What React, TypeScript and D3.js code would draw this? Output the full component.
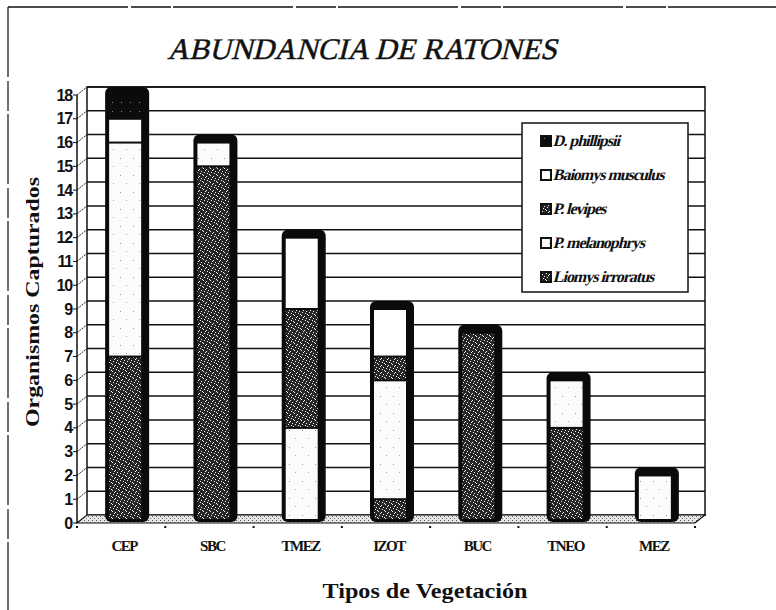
import { useEffect, useRef } from "react";
import * as d3 from "d3";

const categories = ["CEP", "SBC", "TMEZ", "IZOT", "BUC", "TNEO", "MEZ"];
const seriesNames = [
  "Liomys irroratus",
  "P. melanophrys",
  "P. levipes",
  "Baiomys musculus",
  "D. phillipsii",
];
const liomys = [7, 15, 0, 1, 8, 4, 0];
const melanophrys = [9, 1, 4, 5, 0, 2, 2];
const levipes = [0, 0, 5, 1, 0, 0, 0];
const baiomys = [1, 0, 3, 2, 0, 0, 0];
const phillipsii = [1, 0, 0, 0, 0, 0, 0];
const yTicks = d3.range(0, 19);

// legend is listed top-down in reverse stack order
const legendOrder = [
  "D. phillipsii",
  "Baiomys musculus",
  "P. levipes",
  "P. melanophrys",
  "Liomys irroratus",
];

const fills: Record<string, string> = {
  "Liomys irroratus": "url(#speckDark)",
  "P. melanophrys": "url(#dotsLight)",
  "P. levipes": "url(#speckDark)",
  "Baiomys musculus": "#ffffff",
  "D. phillipsii": "url(#speckBlack)",
};

const serif = "'Liberation Serif', 'Times New Roman', serif";

export default function App() {
  const svgRef = useRef<SVGSVGElement>(null);

  useEffect(() => {
    if (!svgRef.current) return;
    const svg = d3.select(svgRef.current);
    svg.selectAll("*").remove();

    const width = 776;
    const height = 610;
    const dx = 10;
    const dy = -8;
    const x0 = 77;
    const x1 = 695;

    const x = d3.scaleBand<string>().domain(categories).range([x0, x1]);
    const y = d3.scaleLinear().domain([0, 18]).range([523, 95]);

    // patterns
    const defs = svg.append("defs");
    const dark = defs
      .append("pattern")
      .attr("id", "speckDark")
      .attr("patternUnits", "userSpaceOnUse")
      .attr("width", 7)
      .attr("height", 7);
    dark.append("rect").attr("width", 7).attr("height", 7).attr("fill", "#262626");
    [
      [0, 0], [3, 1], [5, 3], [1, 4], [4, 5], [6, 6], [2, 2],
    ].forEach(([px, py]) =>
      dark.append("rect").attr("x", px).attr("y", py).attr("width", 1).attr("height", 1).attr("fill", "#f4f4f4")
    );
    const black = defs
      .append("pattern")
      .attr("id", "speckBlack")
      .attr("patternUnits", "userSpaceOnUse")
      .attr("width", 9)
      .attr("height", 9);
    black.append("rect").attr("width", 9).attr("height", 9).attr("fill", "#0d0d0d");
    black.append("rect").attr("x", 4).attr("y", 3).attr("width", 1).attr("height", 1).attr("fill", "#888");
    const light = defs
      .append("pattern")
      .attr("id", "dotsLight")
      .attr("patternUnits", "userSpaceOnUse")
      .attr("width", 13)
      .attr("height", 17);
    light.append("rect").attr("width", 13).attr("height", 17).attr("fill", "#fbfbfb");
    light.append("rect").attr("x", 3).attr("y", 5).attr("width", 1).attr("height", 1).attr("fill", "#999");
    light.append("rect").attr("x", 9).attr("y", 13).attr("width", 1).attr("height", 1).attr("fill", "#aaa");
    const floor = defs
      .append("pattern")
      .attr("id", "floorDither")
      .attr("patternUnits", "userSpaceOnUse")
      .attr("width", 4)
      .attr("height", 4);
    floor.append("rect").attr("width", 4).attr("height", 4).attr("fill", "#e6e6e6");
    floor.append("rect").attr("x", 0).attr("y", 0).attr("width", 1).attr("height", 1).attr("fill", "#555");
    floor.append("rect").attr("x", 2).attr("y", 2).attr("width", 1).attr("height", 1).attr("fill", "#777");

    svg.append("rect").attr("width", width).attr("height", height).attr("fill", "#fff");

    // outer frame
    svg.append("line").attr("x1", 8).attr("x2", width).attr("y1", 7).attr("y2", 7)
      .attr("stroke", "#111").attr("stroke-width", 1.5).attr("stroke-dasharray", "120 3 40 2");
    svg.append("line").attr("x1", 8).attr("x2", 8).attr("y1", 7).attr("y2", height)
      .attr("stroke", "#111").attr("stroke-width", 1.2).attr("stroke-dasharray", "70 4 30 3");

    // title (slanted serif)
    svg.append("text")
      .attr("transform", "translate(362,59) skewX(-14)")
      .attr("text-anchor", "middle")
      .attr("font-family", serif)
      .attr("font-size", 30)
      .attr("fill", "#111")
      .attr("stroke", "#111")
      .attr("stroke-width", 0.5)
      .text("ABUNDANCIA DE RATONES");

    // back wall
    svg.append("rect")
      .attr("x", x0 + dx).attr("y", y(18) + dy)
      .attr("width", x1 - x0).attr("height", y(0) - y(18))
      .attr("fill", "#fff").attr("stroke", "#111").attr("stroke-width", 1.5);

    // gridlines on back wall and side wall
    yTicks.slice(1).forEach((v) => {
      svg.append("line")
        .attr("x1", x0 + dx).attr("x2", x1 + dx)
        .attr("y1", y(v) + dy).attr("y2", y(v) + dy)
        .attr("stroke", "#111").attr("stroke-width", 1.5);
      svg.append("line")
        .attr("x1", x0).attr("x2", x0 + dx)
        .attr("y1", y(v)).attr("y2", y(v) + dy)
        .attr("stroke", "#222").attr("stroke-width", 1).attr("stroke-dasharray", "2 1");
    });

    // floor
    svg.append("path")
      .attr("d", `M${x0},${y(0)}L${x1},${y(0)}L${x1 + dx},${y(0) + dy}L${x0 + dx},${y(0) + dy}Z`)
      .attr("fill", "url(#floorDither)").attr("stroke", "#111").attr("stroke-width", 1.2);

    // y axis
    svg.append("line").attr("x1", x0).attr("x2", x0).attr("y1", y(18)).attr("y2", y(0))
      .attr("stroke", "#111").attr("stroke-width", 1.5);
    yTicks.forEach((v) => {
      svg.append("line").attr("x1", x0 - 4).attr("x2", x0).attr("y1", y(v)).attr("y2", y(v))
        .attr("stroke", "#111").attr("stroke-width", 1);
      svg.append("text")
        .attr("x", x0 - 5).attr("y", y(v))
        .attr("text-anchor", "end")
        .attr("dominant-baseline", "central")
        .attr("font-family", "'Liberation Sans', Arial, sans-serif")
        .attr("font-weight", "bold")
        .attr("font-size", 16)
        .attr("letter-spacing", -1.2)
        .attr("fill", "#111")
        .text(v);
    });

    // x axis ticks (category boundaries)
    d3.range(categories.length + 1).forEach((i) => {
      const tx = x0 + i * x.bandwidth();
      svg.append("rect").attr("x", tx - 1).attr("y", y(0) + 3).attr("width", 2).attr("height", 2).attr("fill", "#111");
    });

    // stacked bars
    const rows = categories.map((c, i) => ({
      cat: c,
      "Liomys irroratus": liomys[i],
      "P. melanophrys": melanophrys[i],
      "P. levipes": levipes[i],
      "Baiomys musculus": baiomys[i],
      "D. phillipsii": phillipsii[i],
    }));
    const stacked = d3.stack<any>().keys(seriesNames)(rows);
    const barW = 44;
    const bars = svg.append("g");
    categories.forEach((c, i) => {
      const total = d3.sum(seriesNames, (k) => (rows[i] as any)[k]);
      const bx = (x(c) ?? 0) + x.bandwidth() / 2 - 16;
      bars.append("rect")
        .attr("x", bx).attr("y", y(total) + dy)
        .attr("width", barW).attr("height", y(0) - 1 - (y(total) + dy))
        .attr("rx", 6)
        .attr("fill", "#0a0a0a");
    });
    stacked.forEach((s) => {
      s.forEach((d, i) => {
        if (d[1] - d[0] <= 0) return;
        const c = categories[i];
        const bx = (x(c) ?? 0) + x.bandwidth() / 2 - 16;
        const top = y(d[1]) + 1;
        const bottom = d[0] === 0 ? y(0) - 4 : y(d[0]) - 1;
        bars.append("rect")
          .attr("x", bx + 4).attr("y", top)
          .attr("width", 32).attr("height", bottom - top)
          .attr("fill", fills[s.key]);
      });
    });

    // category labels
    categories.forEach((c) => {
      svg.append("text")
        .attr("x", (x(c) ?? 0) + x.bandwidth() / 2 + 3)
        .attr("y", 546)
        .attr("text-anchor", "middle")
        .attr("dominant-baseline", "central")
        .attr("font-family", serif)
        .attr("font-weight", "bold")
        .attr("font-size", 15)
        .attr("letter-spacing", -1.5)
        .attr("fill", "#111")
        .text(c);
    });

    // axis titles
    svg.append("text")
      .attr("transform", "translate(39,302) rotate(-90)")
      .attr("text-anchor", "middle")
      .attr("font-family", serif)
      .attr("font-weight", "bold")
      .attr("font-size", 18)
      .attr("textLength", 250)
      .attr("lengthAdjust", "spacingAndGlyphs")
      .attr("fill", "#111")
      .text("Organismos Capturados");
    svg.append("text")
      .attr("x", 425).attr("y", 598)
      .attr("text-anchor", "middle")
      .attr("font-family", serif)
      .attr("font-weight", "bold")
      .attr("font-size", 20)
      .attr("textLength", 205)
      .attr("lengthAdjust", "spacingAndGlyphs")
      .attr("fill", "#111")
      .text("Tipos de Vegetación");

    // legend
    const lg = svg.append("g");
    lg.append("rect").attr("x", 522).attr("y", 123).attr("width", 166).attr("height", 169)
      .attr("fill", "#fff").attr("stroke", "#111").attr("stroke-width", 1.5);
    legendOrder.forEach((name, i) => {
      const ly = 141 + i * 34;
      lg.append("rect").attr("x", 541).attr("y", ly - 5).attr("width", 10).attr("height", 10)
        .attr("fill", fills[name]).attr("stroke", "#111").attr("stroke-width", 2);
      lg.append("text")
        .attr("transform", `translate(554,${ly}) skewX(-14)`)
        .attr("dominant-baseline", "central")
        .attr("font-family", serif)
        .attr("font-weight", "bold")
        .attr("font-size", 16)
        .attr("letter-spacing", -1)
        .attr("fill", "#111")
        .text(name);
    });
  }, []);

  return (
    <svg
      ref={svgRef}
      width={776}
      height={610}
      style={{ position: "absolute", left: 0, top: 0 }}
    />
  );
}
